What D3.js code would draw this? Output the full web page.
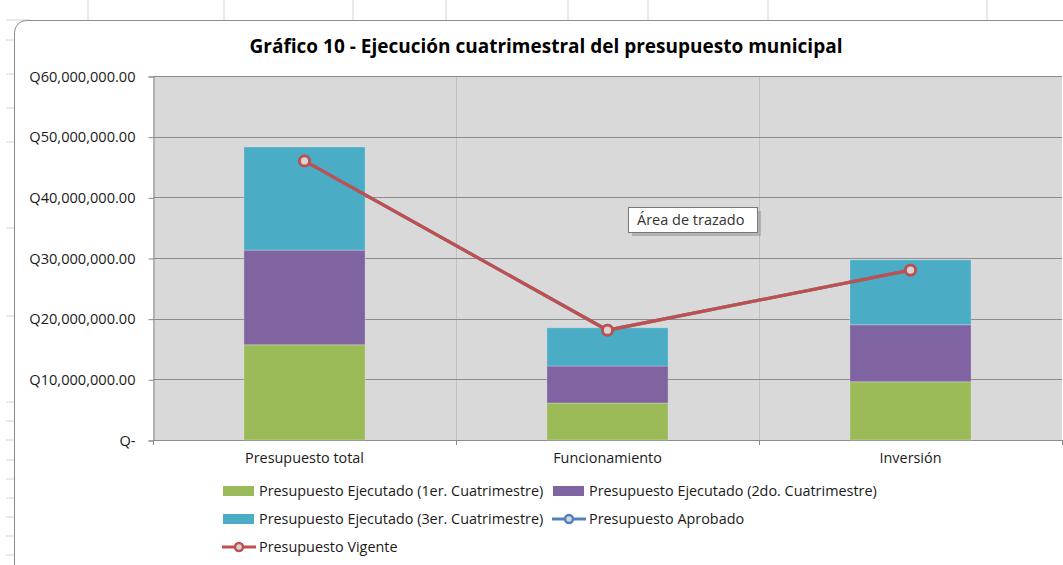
<!DOCTYPE html>
<html>
<head>
<meta charset="utf-8">
<script src="https://cdn.jsdelivr.net/npm/d3@7"></script>
<style>
  body { margin: 0; background: #fff; }
  svg { display: block; font-family: "Open Sans", sans-serif; }
</style>
</head>
<body>
<svg width="1063" height="565"></svg>
<script>
// data
var categories = ["Presupuesto total", "Funcionamiento", "Inversión"];
var ejecutado1 = [15700000, 6100000, 9600000];
var ejecutado2 = [15600000, 6100000, 9400000];
var ejecutado3 = [17000000, 6300000, 10700000];
var aprobado = [46000000, 18100000, 28000000];
var vigente = [46000000, 18100000, 28000000];
var yTicks = [0, 10000000, 20000000, 30000000, 40000000, 50000000, 60000000];

var seriesNames = [
  "Presupuesto Ejecutado (1er. Cuatrimestre)",
  "Presupuesto Ejecutado (2do. Cuatrimestre)",
  "Presupuesto Ejecutado (3er. Cuatrimestre)",
  "Presupuesto Aprobado",
  "Presupuesto Vigente"
];
var colors = ["#9bbb59", "#8064a2", "#4bacc6", "#4f81bd", "#c0504d"];

var svg = d3.select("svg");

// spreadsheet grid behind the chart object
var sheetCols = [88, 224, 353, 446, 568, 648, 768, 987];
var sheetRows = [40, 74, 108, 142, 228, 316, 402, 421, 440, 460, 479, 498, 517, 536, 555];
svg.append("g").selectAll("line").data(sheetCols).enter().append("line")
    .attr("x1", d => d).attr("x2", d => d).attr("y1", 0).attr("y2", 20)
    .attr("stroke", "#d4d4d4");
svg.append("g").selectAll("line").data(sheetRows).enter().append("line")
    .attr("x1", 6).attr("x2", 14).attr("y1", d => d).attr("y2", d => d)
    .attr("stroke", "#d4d4d4");
svg.append("line").attr("x1", 6).attr("x2", 30).attr("y1", 20).attr("y2", 20).attr("stroke", "#d4d4d4");

// chart area
svg.append("rect")
    .attr("x", 14.5).attr("y", 20.5).attr("width", 1080).attr("height", 580)
    .attr("rx", 12).attr("fill", "#fff").attr("stroke", "#8c8c8c");

// title
svg.append("text")
    .attr("x", 546).attr("y", 53)
    .attr("text-anchor", "middle")
    .attr("font-size", 19).attr("font-weight", "bold").attr("fill", "#000")
    .text("Gráfico 10 - Ejecución cuatrimestral del presupuesto municipal");

var pLeft = 153, pRight = 1062, pTop = 76, pBottom = 440;

var x = d3.scaleBand().domain(categories).range([pLeft, pRight]).padding(0);
var y = d3.scaleLinear().domain([0, 60000000]).range([pBottom, pTop]);

// plot area
svg.append("rect")
    .attr("x", pLeft).attr("y", pTop).attr("width", pRight - pLeft).attr("height", pBottom - pTop)
    .attr("fill", "#d9d9d9");

// vertical gridlines at category boundaries
svg.append("g").selectAll("line").data(categories.slice(1)).enter().append("line")
    .attr("x1", d => Math.round(x(d)) + 0.5).attr("x2", d => Math.round(x(d)) + 0.5)
    .attr("y1", pTop).attr("y2", pBottom)
    .attr("stroke", "#bfbfbf");

// horizontal gridlines
svg.append("g").selectAll("line").data(yTicks.slice(1)).enter().append("line")
    .attr("x1", pLeft).attr("x2", pRight)
    .attr("y1", d => Math.round(y(d)) + 0.5).attr("y2", d => Math.round(y(d)) + 0.5)
    .attr("stroke", "#8c8c8c");

// y axis
var fmt = function(d) {
  if (d === 0) return "Q-";
  return "Q" + d3.format(",.2f")(d);
};
var yAxis = svg.append("g")
    .attr("transform", "translate(" + (pLeft + 0.5) + ",0.5)")
    .call(d3.axisLeft(y).tickValues(yTicks).tickFormat(fmt).tickSize(5).tickPadding(13));
yAxis.selectAll("path, line").attr("stroke", "#8c8c8c");
yAxis.selectAll("text").attr("font-size", 14.6).attr("fill", "#1a1a1a")
    .attr("font-family", "'Open Sans', sans-serif");

// x axis
var xAxis = svg.append("g")
    .attr("transform", "translate(0," + (pBottom + 0.5) + ")")
    .call(d3.axisBottom(x).tickSize(0).tickPadding(12));
xAxis.select("path").attr("stroke", "#8c8c8c").attr("d", "M" + pLeft + ",0H" + pRight);
xAxis.selectAll("text").attr("font-size", 14.4).attr("fill", "#1a1a1a")
    .attr("font-family", "'Open Sans', sans-serif");
svg.append("g").selectAll("line").data(categories.concat(["end"])).enter().append("line")
    .attr("x1", (d, i) => Math.round(i < categories.length ? x(d) : pRight) + 0.5)
    .attr("x2", (d, i) => Math.round(i < categories.length ? x(d) : pRight) + 0.5)
    .attr("y1", pBottom).attr("y2", pBottom + 5)
    .attr("stroke", "#8c8c8c");

// stacked bars
var rows = categories.map(function(c, i) {
  return { cat: c, e1: ejecutado1[i], e2: ejecutado2[i], e3: ejecutado3[i] };
});
var stack = d3.stack().keys(["e1", "e2", "e3"])(rows);
var bw = x.bandwidth() * 0.4;

svg.append("g").selectAll("g").data(stack).enter().append("g")
    .attr("fill", (d, i) => colors[i])
  .selectAll("rect").data(d => d).enter().append("rect")
    .attr("x", d => x(d.data.cat) + (x.bandwidth() - bw) / 2)
    .attr("width", bw)
    .attr("y", d => y(d[1]))
    .attr("height", d => y(d[0]) - y(d[1]))
    .attr("stroke", "rgba(255,255,255,0.25)").attr("stroke-width", 1);

// lines
var cx = d => x(d.cat) + x.bandwidth() / 2;
var line = d3.line().x(cx).y(d => y(d.v));

function drawLine(vals, color) {
  var pts = categories.map((c, i) => ({ cat: c, v: vals[i] }));
  var g = svg.append("g");
  g.append("path").datum(pts).attr("d", line)
      .attr("fill", "none").attr("stroke", color).attr("stroke-width", 3.2);
  g.selectAll("circle").data(pts).enter().append("circle")
      .attr("cx", cx).attr("cy", d => y(d.v)).attr("r", 5)
      .attr("fill", "#d6d6d6").attr("stroke", color).attr("stroke-width", 2.8);
}
drawLine(aprobado, colors[3]);
drawLine(vigente, colors[4]);

// "Área de trazado" tooltip
var tip = svg.append("g").attr("transform", "translate(628,207)");
tip.append("rect").attr("x", 4).attr("y", 4).attr("width", 129).attr("height", 25)
    .attr("fill", "#999").attr("opacity", 0.6);
tip.append("rect").attr("x", 0.5).attr("y", 0.5).attr("width", 129).attr("height", 25)
    .attr("fill", "#fff").attr("stroke", "#777");
tip.append("text").attr("x", 9).attr("y", 18)
    .attr("font-size", 14.5).attr("fill", "#333").text("Área de trazado");

// legend
var legendPos = [[223, 491], [553, 491], [223, 519], [553, 519], [223, 547]];
var legend = svg.append("g").selectAll("g").data(seriesNames).enter().append("g")
    .attr("transform", (d, i) => "translate(" + legendPos[i][0] + "," + legendPos[i][1] + ")");
legend.each(function(d, i) {
  var g = d3.select(this);
  if (i < 3) {
    g.append("rect").attr("x", 0).attr("y", -5).attr("width", 31).attr("height", 10)
        .attr("fill", colors[i]);
  } else {
    g.append("line").attr("x1", -1).attr("x2", 33).attr("y1", 0).attr("y2", 0)
        .attr("stroke", colors[i]).attr("stroke-width", 3);
    g.append("circle").attr("cx", 16).attr("cy", 0).attr("r", 4)
        .attr("fill", "#d6d6d6").attr("stroke", colors[i]).attr("stroke-width", 2.5);
  }
  g.append("text").attr("x", 36).attr("y", 5)
      .attr("font-size", 14.4).attr("fill", "#1a1a1a").text(d);
});
</script>
</body>
</html>
